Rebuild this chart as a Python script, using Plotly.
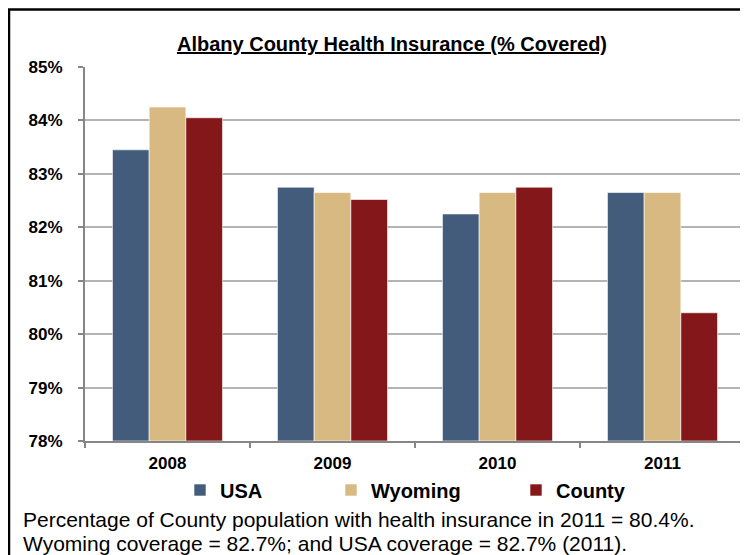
import plotly.graph_objects as go

years = ["2008", "2009", "2010", "2011"]
usa = [83.45, 82.75, 82.25, 82.65]
wyoming = [84.25, 82.65, 82.65, 82.65]
county = [84.05, 82.52, 82.75, 80.4]
series_names = ["USA", "Wyoming", "County"]
colors = ["#435c7c", "#d9b982", "#841719"]
y_ticks = [78, 79, 80, 81, 82, 83, 84, 85]
y_tick_labels = [f"{v}%" for v in y_ticks]
caption_lines = [
    "Percentage of County population with health insurance in 2011 = 80.4%.",
    "Wyoming coverage = 82.7%; and USA coverage = 82.7% (2011).",
]

FONT = "Liberation Sans, Arial, sans-serif"
OFF = 8  # browser default body margin
W, H = 748 - OFF, 555 - OFF
# plot area in page pixels: left 85, right 745, top 67, bottom 441
L, R, T, B = 85 - OFF, 748 - 745, 67 - OFF, 555 - 441

pw = W - L - R
ph = H - T - B
def px_x(p):  # page pixel -> paper x
    return (p - OFF - L) / pw
def px_y(p):  # page pixel -> paper y
    return (H - B - (p - OFF)) / ph

fig = go.Figure()
legends = ["legend", "legend2", "legend3"]
for name, vals, col, lg in zip(series_names, [usa, wyoming, county], colors, legends):
    fig.add_trace(go.Bar(
        x=years, y=[v - 78 for v in vals], base=78, name=f"<b>{name}</b>",
        marker=dict(color=col, line=dict(color="rgba(255,255,255,0.6)", width=1)),
        legend=lg,
    ))

leg_common = dict(orientation="h", font=dict(family=FONT, size=20, color="#000000"),
                  bgcolor="rgba(0,0,0,0)", xanchor="left", yanchor="middle",
                  itemwidth=30, borderwidth=0)
layout_legends = {}
for lg, xpos in zip(legends, [180, 331, 516]):
    layout_legends[lg] = dict(leg_common, x=px_x(xpos), y=px_y(490))

annotations = []
for line, ypos in zip(caption_lines, [519, 543]):
    annotations.append(dict(text=line, xref="paper", yref="paper", x=px_x(21), y=px_y(ypos),
                            xanchor="left", yanchor="middle", align="left", showarrow=False,
                            font=dict(family=FONT, size=21, color="#000000")))

fig.update_layout(
    width=W, height=H,
    margin=dict(l=L, r=R, t=T, b=B, pad=0),
    paper_bgcolor="white", plot_bgcolor="white",
    barmode="group", bargap=0.333, bargroupgap=0,
    title=dict(text="<b><u>Albany County Health Insurance (% Covered)</u></b>",
               x=px_x(392), xanchor="center", xref="paper",
               y=1 - (44 - OFF) / H, yanchor="middle",
               font=dict(family=FONT, size=20, color="#000000")),
    xaxis=dict(type="category", tickson="boundaries", ticks="outside", ticklen=5,
               tickcolor="#868686", tickwidth=2, showline=True, linecolor="#868686", linewidth=2,
               tickfont=dict(family=FONT, size=17, color="#000000"),
               tickprefix="<b>", ticksuffix="</b>", showgrid=False, ticklabelstandoff=6),
    yaxis=dict(range=[78, 85], tickvals=y_ticks, ticktext=[f"<b>{t}</b>" for t in y_tick_labels],
               ticks="outside", ticklen=5, tickcolor="#868686", tickwidth=2,
               showline=True, linecolor="#868686", linewidth=2,
               showgrid=True, gridcolor="#b4b4b4", gridwidth=2, zeroline=False,
               tickfont=dict(family=FONT, size=17, color="#000000"), ticklabelstandoff=12),
    showlegend=True,
    **layout_legends,
    annotations=annotations,
    shapes=[
        dict(type="rect", xref="paper", yref="paper", x0=px_x(9), x1=px_x(800),
             y0=px_y(650), y1=px_y(9.5), line=dict(color="#000000", width=2.5),
             fillcolor="rgba(0,0,0,0)", layer="above"),
    ],
)

fig.write_html("out.html")
